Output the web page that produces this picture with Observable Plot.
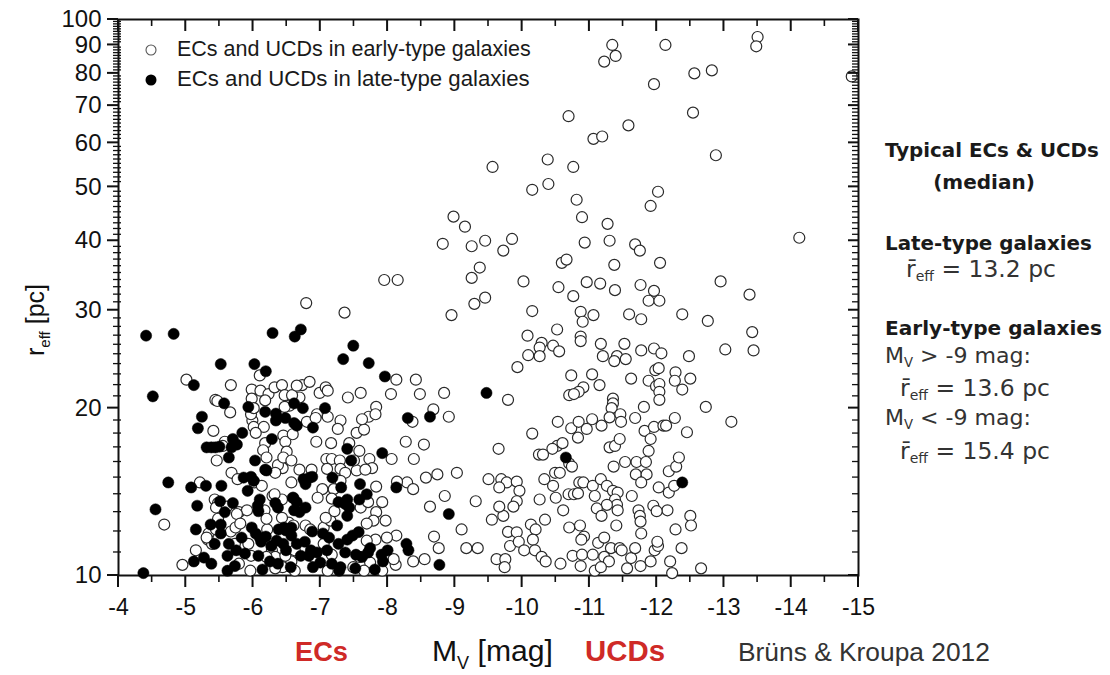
<!DOCTYPE html>
<html>
<head>
<meta charset="utf-8">
<script src="https://cdn.jsdelivr.net/npm/d3@7"></script>
<script src="https://cdn.jsdelivr.net/npm/@observablehq/plot@0.6"></script>
<style>
  html, body { margin: 0; padding: 0; background: #fff; }
  #chart { width: 1110px; height: 675px; }
</style>
</head>
<body>
<div id="chart"></div>
<script>
// ---- Data: [M_V (mag), r_eff (pc)] ----
const earlyType = [
[-13.5,93],[-13.48,89.5],[-11.34,90],[-11.39,86],[-11.22,84],[-12.13,90],[-12.56,80],[-12.82,81],[-11.96,76.5],[-14.9,79],
[-12.54,68],[-10.69,67],[-11.58,64.5],[-11.06,61],[-11.19,61.6],[-12.88,57],[-10.38,56],[-9.56,54.3],[-10.76,54.3],[-10.39,50.6],
[-10.15,49.4],[-10.81,47.4],[-12.02,49],[-11.91,46.2],[-8.98,44.2],[-9.15,42.4],[-10.89,44.1],[-11.27,42.9],[-14.12,40.5],[-8.82,39.5],
[-9.25,39.1],[-9.45,40],[-9.85,40.3],[-9.72,38.4],[-10.93,39.7],[-11.3,40],[-11.68,39.4],[-11.75,38.4],[-11.37,36.2],[-12.05,36.5],
[-10.59,36.5],[-10.66,37],[-9.25,34.3],[-9.37,35.8],[-10.02,33.8],[-10.54,33],[-10.96,33.7],[-11.16,33.5],[-11.38,32.6],[-11.76,33.3],
[-11.96,32.5],[-12.95,33.8],[-13.38,32.0],[-10.76,31.8],[-9.45,31.6],[-7.95,34.0],[-8.15,34.0],[-9.29,30.8],[-8.95,29.4],[-6.79,30.9],
[-7.36,29.7],[-6.1,22.9],[-5.01,22.5],[-8.13,22.5],[-8.42,22.5],
[-10.15,29.9],[-11.88,31.2],[-12.04,31.2],[-10.87,29.8],[-10.9,28.6],[-11.06,29.4],[-11.59,29.5],[-11.77,28.9],[-12.38,29.5],[-12.76,28.7],
[-10.52,27.7],[-10.08,27.0],[-10.87,26.9],[-10.87,26.4],[-10.29,26.2],[-10.26,25.7],[-10.46,25.9],[-10.55,25.3],[-10.09,24.9],[-10.26,24.8],
[-9.93,23.7],[-11.17,26.1],[-11.52,26.1],[-11.2,24.8],[-11.41,24.8],[-11.37,24.3],[-11.54,24.5],[-11.77,25.4],[-11.96,25.6],[-12.07,25.1],
[-12.48,24.8],[-10.73,22.9],[-11.04,23.0],[-11.15,22.0],[-10.91,21.8],[-10.84,21.4],[-10.7,21.1],[-11.62,22.6],[-11.88,22.4],[-11.98,23.4],
[-12.03,23.6],[-11.99,21.9],[-12.04,22.1],[-12.04,21.4],[-12.28,23.2],[-12.27,22.4],[-12.5,22.6],[-12.38,21.6],[-12.04,20.7],[-11.81,20.1],
[-12.73,20.1],[-9.79,20.7],[-11.35,20.8],[-11.35,20.4],[-10.77,21.2],
[-13.42,27.4],[-13.02,25.5],[-13.44,25.4],[-13.11,18.9],[-12.66,10.3],
[-8.27,17.4],[-8.54,17.2],[-8.39,16.2],[-8.37,18.9],[-8.68,19.9],[-8.91,19.3],[-8.48,21.2],[-8.84,21.3],[-9.65,16.9],[-9.5,14.9],
[-9.69,14.9],[-9.77,14.7],[-9.66,14.4],[-9.92,14.75],[-9.96,14.2],[-9.92,13.6],[-9.87,13.3],[-9.72,12.8],[-9.55,12.6],[-9.66,13.3],
[-9.31,13.6],[-9.03,15.3],[-8.74,15.2],[-8.57,15.0],[-8.29,14.7],[-8.38,14.3],[-8.63,13.3],[-8.85,13.9],[-9.1,12.1],[-8.69,11.75],
[-8.76,11.2],[-9.17,11.2],[-9.34,11.2],[-8.55,10.7],[-8.38,10.6],[-9.62,10.7],[-9.75,10.7],[-9.74,10.35],[-9.79,11.98],[-9.92,11.96],
[-9.82,11.3],[-9.95,11.5],[-10.03,11.1],[-10.13,12.35],[-10.2,12.1],[-10.16,11.6],[-10.19,11.1],[-10.29,10.8],[-10.35,10.6],[-10.34,12.6],
[-10.33,14.9],[-10.26,13.7],[-10.46,14.5],[-10.5,13.8],[-10.61,13.1],[-10.49,15.3],[-10.56,15.3],[-10.7,15.9],[-10.74,15.7],[-10.52,17.1],
[-10.6,17.3],[-10.45,16.9],[-10.25,16.5],[-10.31,16.5],[-10.15,18.0],[-10.53,18.9],[-10.73,18.4],[-10.84,18.9],[-10.96,18.35],[-10.83,17.7],
[-10.69,14.0],[-10.77,14.0],[-10.83,14.05],[-10.85,14.7],[-10.91,14.7],[-10.86,12.3],[-10.92,11.75],[-10.88,11.6],[-10.7,12.2],[-10.75,10.85],
[-10.89,10.9],[-10.87,10.4],[-10.57,10.5],[-11.05,14.5],[-11.08,13.9],[-11.17,14.9],[-11.26,14.5],[-11.35,14.2],[-11.42,14.1],[-11.38,13.7],
[-11.41,13.4],[-11.42,13.1],[-11.26,13.4],[-11.11,13.2],[-11.18,12.8],[-11.4,12.3],[-11.13,11.45],[-11.22,11.7],[-11.32,11.2],[-11.45,11.2],
[-11.05,10.9],[-11.22,10.8],[-11.29,10.6],[-11.08,10.2],[-11.17,10.35],[-11.56,10.3],[-11.62,10.75],[-11.68,11.2],[-11.48,11.1],[-11.76,10.4],
[-11.91,10.6],[-11.97,11.1],[-12.02,11.3],[-12.01,11.5],[-11.77,11.9],[-12.2,10.6],[-12.23,10.1],[-12.37,11.2],[-12.28,12.1],[-12.5,12.8],
[-12.51,12.3],[-12.16,13.1],[-11.95,13.35],[-12.0,13.05],[-11.73,13.1],[-11.75,12.8],[-11.76,12.5],[-11.63,13.9],[-12.03,14.4],[-12.18,14.1],
[-12.26,14.5],[-12.18,15.4],[-12.29,15.7],[-12.33,16.3],[-11.7,16.0],[-11.84,16.0],[-11.53,16.0],[-11.36,15.7],[-11.69,15.2],[-11.85,15.2],
[-11.77,14.7],[-11.3,17.0],[-11.38,17.1],[-11.45,17.6],[-11.33,20.0],[-11.3,19.25],[-11.46,19.5],[-11.18,18.6],[-11.04,19.1],[-11.68,19.2],
[-11.82,18.2],[-11.88,16.75],[-11.91,17.6],[-11.96,18.5],[-12.1,18.6],[-12.14,18.6],[-12.27,19.2],[-12.45,18.1],[-11.47,18.9],
[-5.67,22.0],[-5.98,21.6],[-6.11,21.5],[-6.23,21.2],[-6.32,21.8],[-6.43,22.0],[-6.18,20.65],[-5.44,20.7],[-5.47,20.6],[-5.66,19.65],
[-5.98,20.8],[-5.99,19.0],[-5.97,19.5],[-6.01,18.5],[-6.16,18.5],[-6.04,18.05],[-6.47,21.1],[-6.54,20.2],[-6.45,17.85],[-6.48,17.4],
[-6.59,17.95],[-6.18,17.3],[-6.15,16.8],[-6.2,16.3],[-5.41,18.2],[-5.46,16.1],[-5.58,17.4],[-5.55,17.1],[-5.68,15.3],[-5.77,14.9],
[-6.02,14.7],[-6.13,14.5],[-6.44,15.6],[-6.37,15.8],[-6.57,14.7],[-5.21,14.7],[-5.43,13.7],[-5.48,13.5],[-5.45,13.25],[-5.61,13.3],
[-5.79,13.0],[-5.91,13.1],[-6.17,13.1],[-6.29,13.9],[-6.43,13.7],[-5.34,11.9],[-5.33,11.6],[-5.39,11.4],[-5.45,12.1],[-5.15,11.1],
[-4.95,10.45],[-4.68,12.35],[-5.67,12.0],[-5.74,12.2],[-5.79,10.5],[-5.96,10.2],[-5.97,10.85],[-6.28,11.1],[-6.33,10.8],[-6.44,10.35],
[-6.57,10.6],[-6.62,11.1],[-6.21,12.1],[-6.53,12.45],[-6.6,12.3],
[-6.73,22.0],[-6.84,22.3],[-6.99,21.3],[-7.08,21.8],[-7.11,21.5],[-7.41,20.9],[-7.6,21.3],[-8.05,21.2],[-6.69,20.9],[-6.95,19.5],
[-7.11,19.3],[-6.8,18.9],[-6.93,19.2],[-7.3,19.0],[-7.26,18.35],[-7.54,18.05],[-7.65,18.3],[-7.72,19.3],[-7.83,20.1],[-7.82,19.5],
[-7.62,19.1],[-6.94,17.4],[-7.16,17.3],[-7.43,17.3],[-7.58,16.75],[-7.09,16.2],[-7.17,16.2],[-7.29,16.1],[-7.73,16.2],[-7.77,15.6],
[-7.54,15.45],[-7.67,15.5],[-8.06,16.2],[-6.69,15.5],[-6.87,15.5],[-7.1,15.55],[-7.3,15.55],[-7.03,14.3],[-7.2,14.3],[-7.17,13.75],
[-6.96,13.8],[-7.83,14.45],[-7.92,13.55],[-7.83,13.0],[-7.97,12.55],[-7.79,12.55],[-8.14,14.75],[-8.13,11.8],[-8.12,10.45],[-6.78,12.3],
[-6.85,12.1],[-7.05,12.2],[-7.15,12.55],[-7.6,13.25],[-7.69,12.4],[-7.17,10.9],[-7.74,10.55],[-7.49,10.35],[-7.05,11.4],
[-6.01,20.0],[-6.47,20.1],[-6.58,21.1],[-6.65,21.95],[-6.5,16.7],[-6.45,16.3],[-6.57,16.1],[-6.33,15.3],[-6.32,14.0],[-5.76,12.9],
[-5.48,12.65],[-5.31,11.7],[-5.73,11.4],[-5.93,11.4],[-6.2,12.65],[-6.43,12.7],[-6.48,10.85],[-6.62,10.2],[-5.81,12.4],[-6.2,10.8],
[-6.33,10.3],[-7.37,15.3],[-7.5,16.1],[-7.3,14.8],[-7.71,13.55],[-7.21,13.05],[-7.08,12.7],[-7.82,11.6],[-7.99,11.7],[-7.69,11.55],
[-7.58,10.8],[-8.09,10.7],[-6.9,10.8],[-7.11,10.2],[-7.65,10.2],[-7.92,10.2]
];

const lateType = [
[-4.41,27.0],[-4.82,27.2],[-6.29,27.3],[-6.71,27.7],[-6.62,26.9],[-7.49,25.9],[-7.34,24.5],[-7.72,24.1],[-5.52,24.0],[-6.02,24.0],
[-6.19,23.3],[-7.96,22.8],
[-12.38,14.7],[-10.65,16.3],[-9.47,21.3],[-8.3,19.2],[-8.63,19.3],[-8.91,12.9],[-8.28,11.4],[-8.31,11.1],[-8.77,10.45],
[-4.51,21.0],[-5.12,22.0],[-5.24,19.3],[-5.18,18.4],[-5.31,17.0],[-5.38,17.0],[-5.44,17.0],[-5.5,17.05],[-4.74,14.7],[-4.55,13.15],
[-5.08,14.4],[-5.3,14.5],[-5.17,13.35],[-5.15,12.1],[-5.12,10.6],[-5.27,10.77],[-5.38,10.5],[-4.37,10.1],[-5.57,20.4],[-5.93,20.1],
[-6.18,19.7],[-6.34,19.55],[-6.34,19.0],[-6.48,19.2],[-6.61,20.4],[-6.61,18.8],[-5.84,18.05],[-5.7,17.6],[-5.76,17.2],[-5.68,17.0],
[-6.28,17.6],[-5.64,16.3],[-6.03,16.1],[-6.18,15.5],[-6.2,15.45],[-5.86,15.0],[-5.97,15.05],[-6.01,14.8],[-5.92,14.2],[-5.53,14.5],
[-5.51,13.6],[-5.7,13.5],[-5.58,13.0],[-6.1,13.7],[-6.07,13.35],[-6.08,13.05],[-6.33,13.5],[-6.37,13.25],[-6.59,13.8],[-6.61,13.1],
[-5.37,12.35],[-5.52,12.35],[-5.52,11.9],[-5.43,11.4],[-5.64,11.4],[-5.62,10.85],[-5.75,11.1],[-5.83,11.7],[-5.88,10.95],[-5.98,12.2],
[-6.04,11.9],[-6.1,11.7],[-6.12,11.5],[-6.19,11.75],[-6.27,11.3],[-6.35,11.55],[-6.38,12.1],[-6.46,12.2],[-6.49,12.05],[-6.57,11.8],
[-6.49,11.1],[-6.08,10.85],[-6.14,10.25],[-6.37,10.5],[-5.62,10.2],[-6.56,10.35],
[-6.74,20.0],[-7.07,20.0],[-6.65,18.6],[-6.89,18.45],[-7.4,16.9],[-7.46,16.1],[-7.92,16.6],[-8.13,14.4],[-6.75,14.9],[-6.84,15.0],
[-6.88,15.05],[-6.78,14.6],[-7.18,15.0],[-7.31,14.4],[-7.59,14.6],[-7.69,14.0],[-7.58,13.7],[-7.4,13.7],[-7.37,13.45],[-7.43,13.25],
[-7.4,12.8],[-6.6,13.8],[-6.65,13.55],[-6.78,13.25],[-6.69,13.0],[-7.25,12.3],[-7.57,11.97],[-7.48,11.8],[-7.4,11.6],[-7.04,11.9],
[-7.13,11.7],[-6.88,12.0],[-6.77,11.5],[-6.65,11.4],[-6.95,11.0],[-6.83,10.85],[-6.71,10.85],[-7.27,11.4],[-7.37,11.0],[-7.53,10.9],
[-7.62,10.8],[-7.74,11.2],[-7.71,11.0],[-7.91,10.9],[-8.0,11.1],[-7.93,10.6],[-7.17,10.5],[-7.3,10.35],[-7.28,10.2],[-7.81,10.25],
[-7.52,10.3],[-7.0,10.55],[-6.89,10.35],
[-6.57,12.2],[-6.45,11.4],[-6.25,10.6],[-5.73,10.4],[-7.1,11.1],[-6.86,11.1],[-7.27,13.55]
];

const xMajorTicks = [-4,-5,-6,-7,-8,-9,-10,-11,-12,-13,-14,-15];
const xMinorTicks = [-4.5,-5.5,-6.5,-7.5,-8.5,-9.5,-10.5,-11.5,-12.5,-13.5,-14.5];
const yMajorTicks = [10,20,30,40,50,60,70,80,90,100];
const yMinorTicks = d3.range(11,100).filter(v => v % 10 !== 0);

const legendLabels = ["ECs and UCDs in early-type galaxies", "ECs and UCDs in late-type galaxies"];

// ---- Chart ----
const ink = "#111";
const xMin = -4, xMax = -15, yMin = 10, yMax = 100;
const chart = Plot.plot({
  width: 1110,
  height: 675,
  marginLeft: 118,
  marginRight: 252,
  marginTop: 19,
  marginBottom: 100,
  style: {fontFamily: "'Liberation Sans', Arial, sans-serif", background: "#fff", color: ink, overflow: "visible"},
  x: {domain: [xMin, xMax], label: null, axis: null},
  y: {type: "log", domain: [yMin, yMax], label: null, axis: null},
  marks: [
    Plot.text(xMajorTicks, {x: d => d, y: yMin, text: d => String(d), dy: 32, fontSize: 23, fill: ink}),
    Plot.text(yMajorTicks, {x: xMin, y: d => d, text: d => String(d), dx: -17, textAnchor: "end", fontSize: 24, fill: ink}),
    Plot.frame({stroke: ink, strokeWidth: 2}),
    Plot.dot(earlyType, {x: d => d[0], y: d => d[1], r: 5.5, fill: "#fff", stroke: "#2a2a2a", strokeWidth: 1.2}),
    Plot.dot(lateType, {x: d => d[0], y: d => d[1], r: 5.6, fill: "#000", stroke: "#000", strokeWidth: 0.5})
  ]
});
document.getElementById("chart").appendChild(chart);

// ---- Tick marks, positioned through Plot's own scales (drawn as thin rects) ----
const svg = d3.select(chart);
const sx = chart.scale("x"), sy = chart.scale("y");
const X = v => sx.apply(v), Y = v => sy.apply(v);
const tickG = svg.append("g").attr("fill", ink).attr("stroke", "none");
function vTicks(values, yv, d1, d2, w) {
  values.forEach(v => tickG.append("rect")
    .attr("x", X(v) - w / 2).attr("width", w)
    .attr("y", Y(yv) + Math.min(d1, d2)).attr("height", Math.abs(d2 - d1)));
}
function hTicks(values, xv, d1, d2, w) {
  values.forEach(v => tickG.append("rect")
    .attr("y", Y(v) - w / 2).attr("height", w)
    .attr("x", X(xv) + Math.min(d1, d2)).attr("width", Math.abs(d2 - d1)));
}
vTicks(xMajorTicks, yMin, 0, 12, 2);     // bottom, outward
vTicks(xMinorTicks, yMin, 0, 7, 1.6);
vTicks(xMajorTicks, yMax, 0, 12, 2);     // top, inward
vTicks(xMinorTicks, yMax, 0, 7, 1.6);
hTicks(yMajorTicks, xMin, -11, 0, 2);    // left, outward
hTicks(yMinorTicks, xMin, -5, 3, 1.3);
hTicks(yMajorTicks, xMax, -10, 0, 2);    // right, inward
hTicks(yMinorTicks, xMax, -6, 0, 1.3);

// ---- Annotations (text) ----
function addText(opts) {
  const t = svg.append("text")
    .attr("x", opts.x).attr("y", opts.y)
    .attr("text-anchor", opts.anchor || "start")
    .attr("font-family", opts.family || "'Liberation Sans', Arial, sans-serif")
    .attr("font-size", opts.size)
    .attr("font-weight", opts.weight || "normal")
    .attr("fill", opts.fill || "#1a1a1a");
  if (opts.transform) t.attr("transform", opts.transform);
  const sub = opts.subShift || 0.25;
  const apply = (ns) => {
    t.attr("font-size", ns);
    t.selectAll("tspan").each(function(_, i) {
      const p = (opts.parts || [])[i];
      if (p && p.sub) d3.select(this).attr("font-size", ns * 0.6).attr("dy", ns * sub);
      if (p && p.up) d3.select(this).attr("dy", -ns * sub);
    });
  };
  (opts.parts || [{t: opts.text}]).forEach(p => t.append("tspan").text(p.t));
  apply(opts.size);
  if (opts.width) {
    const len = t.node().getComputedTextLength();
    if (len > 0) apply(opts.size * opts.width / len);
  }
  return t;
}

// legend
svg.append("circle").attr("cx", 151).attr("cy", 50).attr("r", 5).attr("fill", "#fff").attr("stroke", "#555").attr("stroke-width", 1.1);
svg.append("circle").attr("cx", 151).attr("cy", 80).attr("r", 5.5).attr("fill", "#000");
addText({x: 177, y: 56, text: legendLabels[0], size: 18, width: 354});
addText({x: 177, y: 86, text: legendLabels[1], size: 18, width: 353});

// axis titles
addText({x: 0, y: 0, size: 25, anchor: "middle", transform: "translate(44,320) rotate(-90)",
  parts: [{t: "r"}, {t: "eff", sub: true}, {t: " [pc]", up: true}], fill: "#111"});
addText({x: 432, y: 661, size: 25, parts: [{t: "M"}, {t: "V", sub: true}, {t: " [mag]", up: true}], fill: "#111", width: 121});
addText({x: 295, y: 661, text: "ECs", size: 24, weight: "bold", fill: "#cf2a27", width: 53});
addText({x: 585, y: 661, text: "UCDs", size: 24, weight: "bold", fill: "#cf2a27", width: 80});
addText({x: 738, y: 661, text: "Brüns & Kroupa 2012", size: 23, fill: "#333", width: 252});

// right-hand panel
const fam = "'DejaVu Sans', Lato, sans-serif";
const boldSize = 20, regSize = 21;
addText({x: 885, y: 157, text: "Typical ECs & UCDs", size: boldSize, weight: "bold", family: fam, width: 214});
addText({x: 984, y: 189, text: "(median)", size: boldSize, weight: "bold", family: fam, anchor: "middle"});
addText({x: 885, y: 250, text: "Late-type galaxies", size: boldSize, weight: "bold", family: fam, width: 207});
addText({x: 906, y: 277, size: regSize, family: fam, fill: "#333", subShift: 0.18, width: 150, parts: [{t: "r\u0304"}, {t: "eff", sub: true}, {t: " = 13.2 pc", up: true}]});
addText({x: 885, y: 335, text: "Early-type galaxies", size: boldSize, weight: "bold", family: fam, width: 217});
addText({x: 885, y: 363, size: regSize, family: fam, fill: "#333", subShift: 0.18, width: 146, parts: [{t: "M"}, {t: "V", sub: true}, {t: " > -9 mag:", up: true}]});
addText({x: 900, y: 396, size: regSize, family: fam, fill: "#333", subShift: 0.18, width: 150, parts: [{t: "r\u0304"}, {t: "eff", sub: true}, {t: " = 13.6 pc", up: true}]});
addText({x: 885, y: 425, size: regSize, family: fam, fill: "#333", subShift: 0.18, width: 146, parts: [{t: "M"}, {t: "V", sub: true}, {t: " < -9 mag:", up: true}]});
addText({x: 900, y: 459, size: regSize, family: fam, fill: "#333", subShift: 0.18, width: 150, parts: [{t: "r\u0304"}, {t: "eff", sub: true}, {t: " = 15.4 pc", up: true}]});
</script>
</body>
</html>
